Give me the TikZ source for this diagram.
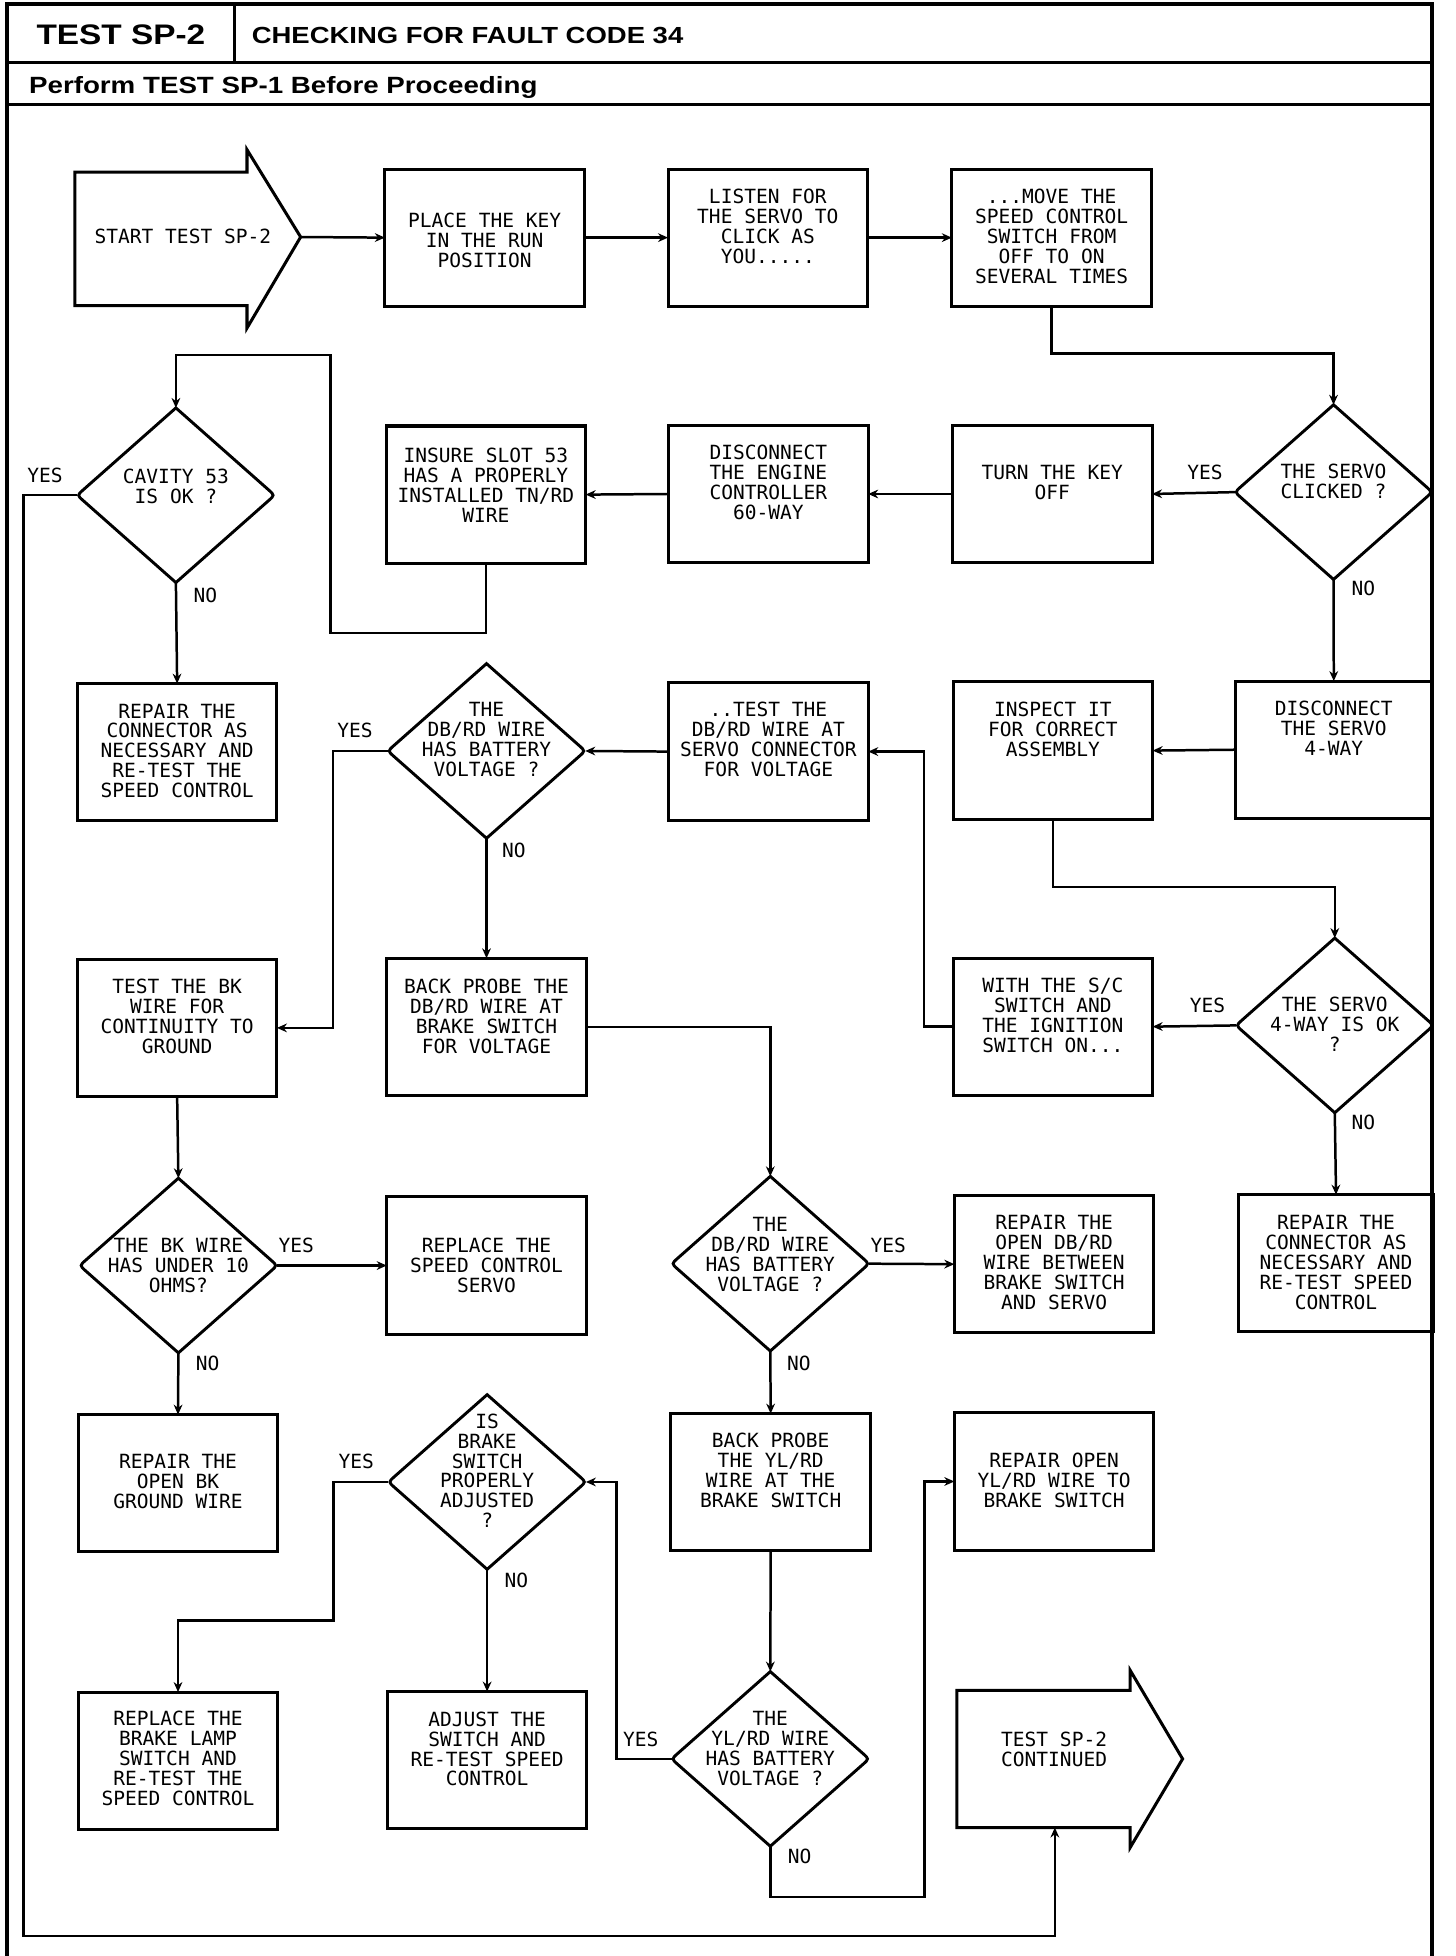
\documentclass[tikz,border=0pt]{standalone}
\usepackage{fontspec}
\usetikzlibrary{shapes.geometric,calc,arrows.meta}
\newfontfamily\plotfont{DejaVu Sans Mono}
\newfontfamily\hdrfont[FakeStretch=1.18]{Liberation Sans Bold}
\newcommand\drawdiamond[1]{\draw[diaedge] (#1.north) -- ($(#1.west)!4pt!(#1.north)$) .. controls (#1.west) .. ($(#1.west)!4pt!(#1.south)$) -- (#1.south) -- ($(#1.east)!4pt!(#1.south)$) .. controls (#1.east) .. ($(#1.east)!4pt!(#1.north)$) -- cycle;}
\begin{document}
\begin{tikzpicture}[x=0.6pt,y=-0.6pt,
  box/.style={draw, line width=1.45pt, minimum width=96pt, minimum height=66pt, inner sep=0pt, outer sep=0pt},
  nbox/.style={box, minimum width=94.2pt},
  dia/.style={shape=diamond, minimum width=95pt, minimum height=84pt, inner sep=0pt, outer sep=0pt},
  diaedge/.style={line width=1.4pt},
  txt/.style={font=\plotfont\fontsize{9.4pt}{9.6pt}\selectfont, align=center, inner sep=0pt},
  lab/.style={font=\plotfont\fontsize{9.4pt}{9.6pt}\selectfont, inner sep=0pt},
  conn/.style={line width=1.2pt, -{Stealth[length=4.8pt,width=4.2pt]}},
  frame/.style={line width=1.9pt},
  hline/.style={line width=1.5pt},
  hdr/.style={anchor=base west, inner sep=0pt}
]
\useasboundingbox (0,0) rectangle (1167,1568);

% frame and header
\draw[frame] (5.5,1568) -- (5.5,3.5) -- (1148.3,3.5) -- (1148.3,1568);
\draw[hline] (5.5,50) -- (1148.3,50);
\draw[hline] (188,3.5) -- (188,50);
\draw[hline] (5.5,84) -- (1148.3,84);
\node[hdr, font=\hdrfont\fontsize{13.6pt}{14pt}\selectfont] (hdrtest) at (29,36) {TEST SP-2};
\node[hdr, font=\hdrfont\fontsize{11.2pt}{12pt}\selectfont] (hdrcheck) at (201.5,34.5) {CHECKING FOR FAULT CODE 34};
\node[hdr, font=\hdrfont\fontsize{11.3pt}{12pt}\selectfont] (hdrperf) at (23,75) {Perform TEST SP-1 Before Proceeding};

% start and continued arrows
\draw[line width=1.45pt] (60,138) -- (198,138) -- (198,120) -- (241,190) -- (198,263) -- (198,245) -- (60,245) -- cycle;
\node[txt] (start) at (146.6,189.7) {START TEST SP-2};
\coordinate (starttip) at (241,190);
\draw[line width=1.45pt] (767,1355) -- (906,1355) -- (906,1339) -- (948,1410) -- (906,1481) -- (906,1465) -- (767,1465) -- cycle;
\node[txt] (cont) at (845,1402) {TEST SP-2\\CONTINUED};
\coordinate (contin) at (845.6,1465);

% row 1
\node[box] (place) at (388.5,190.5) {};
\node[txt] (placet) at (388.5,193) {PLACE THE KEY\\IN THE RUN\\POSITION};
\node[box] (listen) at (615.5,190.5) {};
\node[txt] (listent) at (615.5,181.8) {LISTEN FOR\\THE SERVO TO\\CLICK AS\\YOU.....};
\node[box] (move) at (843,190.5) {};
\node[txt] (movet) at (843,189.7) {...MOVE THE\\SPEED CONTROL\\SWITCH FROM\\OFF TO ON\\SEVERAL TIMES};

% row 2
\node[dia] (clicked) at (1069,394.5) {};
\drawdiamond{clicked}
\node[txt] (clickedt) at (1069,386) {THE SERVO\\CLICKED ?};
\node[box] (turn) at (843.5,396) {};
\node[txt] (turnt) at (843.5,387) {TURN THE KEY\\OFF};
\node[box] (disce) at (616,396) {};
\node[txt] (discet) at (616,387) {DISCONNECT\\THE ENGINE\\CONTROLLER\\60-WAY};
\node[box] (insure) at (389.5,396.5) {};
\node[txt] (insuret) at (389.5,388.7) {INSURE SLOT 53\\HAS A PROPERLY\\INSTALLED TN/RD\\WIRE};
\node[dia] (cavity) at (141,397) {};
\drawdiamond{cavity}
\node[txt] (cavityt) at (141,390) {CAVITY 53\\IS OK ?};

% row 3
\node[box] (rep1) at (142,603) {};
\node[txt] (rep1t) at (142,602) {REPAIR THE\\CONNECTOR AS\\NECESSARY AND\\RE-TEST THE\\SPEED CONTROL};
\node[dia] (dbrd1) at (390,602) {};
\drawdiamond{dbrd1}
\node[txt] (dbrd1t) at (390,593) {THE\\DB/RD WIRE\\HAS BATTERY\\VOLTAGE ?};
\node[box] (testdb) at (616,602.5) {};
\node[txt] (testdbt) at (616,593) {..TEST THE\\DB/RD WIRE AT\\SERVO CONNECTOR\\FOR VOLTAGE};
\node[box] (inspect) at (844,601.7) {};
\node[txt] (inspectt) at (844,584.5) {INSPECT IT\\FOR CORRECT\\ASSEMBLY};
\node[nbox] (discs) at (1069.2,601) {};
\node[txt] (discst) at (1069.2,584) {DISCONNECT\\THE SERVO\\4-WAY};

% row 4
\node[box] (testbk) at (142,824) {};
\node[txt] (testbkt) at (142,815) {TEST THE BK\\WIRE FOR\\CONTINUITY TO\\GROUND};
\node[box] (bpdb) at (390,823.2) {};
\node[txt] (bpdbt) at (390,815) {BACK PROBE THE\\DB/RD WIRE AT\\BRAKE SWITCH\\FOR VOLTAGE};
\node[box] (with) at (844,823) {};
\node[txt] (witht) at (844,814) {WITH THE S/C\\SWITCH AND\\THE IGNITION\\SWITCH ON...};
\node[dia] (servo4) at (1070,822) {};
\drawdiamond{servo4}
\node[txt] (servo4t) at (1070,821) {THE SERVO\\4-WAY IS OK\\?};

% row 5
\node[dia] (bk) at (143,1014.5) {};
\drawdiamond{bk}
\node[txt] (bkt) at (143,1014.5) {THE BK WIRE\\HAS UNDER 10\\OHMS?};
\node[box] (repservo) at (390,1014.5) {};
\node[txt] (repservot) at (390,1014.5) {REPLACE THE\\SPEED CONTROL\\SERVO};
\node[dia] (dbrd2) at (617.5,1013) {};
\drawdiamond{dbrd2}
\node[txt] (dbrd2t) at (617.5,1005.5) {THE\\DB/RD WIRE\\HAS BATTERY\\VOLTAGE ?};
\node[box] (repdb) at (845,1013.4) {};
\node[txt] (repdbt) at (845,1012.4) {REPAIR THE\\OPEN DB/RD\\WIRE BETWEEN\\BRAKE SWITCH\\AND SERVO};
\node[nbox] (repcon2) at (1071,1012.7) {};
\node[txt] (repcon2t) at (1071,1012.4) {REPAIR THE\\CONNECTOR AS\\NECESSARY AND\\RE-TEST SPEED\\CONTROL};

% row 6
\node[box] (repbk) at (142.7,1189) {};
\node[txt] (repbkt) at (142.7,1187.3) {REPAIR THE\\OPEN BK\\GROUND WIRE};
\node[dia] (brake) at (390.5,1188) {};
\drawdiamond{brake}
\node[txt] (braket) at (390.5,1179) {IS\\BRAKE\\SWITCH\\PROPERLY\\ADJUSTED\\?};
\node[box] (bpyl) at (617.8,1188.2) {};
\node[txt] (bpylt) at (617.8,1179) {BACK PROBE\\THE YL/RD\\WIRE AT THE\\BRAKE SWITCH};
\node[box] (repyl) at (845,1187.6) {};
\node[txt] (repylt) at (845,1187) {REPAIR OPEN\\YL/RD WIRE TO\\BRAKE SWITCH};

% row 7
\node[box] (replamp) at (142.7,1411.4) {};
\node[txt] (replampt) at (142.7,1409.8) {REPLACE THE\\BRAKE LAMP\\SWITCH AND\\RE-TEST THE\\SPEED CONTROL};
\node[box] (adjust) at (390.5,1411) {};
\node[txt] (adjustt) at (390.5,1402) {ADJUST THE\\SWITCH AND\\RE-TEST SPEED\\CONTROL};
\node[dia] (ylrd) at (617.5,1410) {};
\drawdiamond{ylrd}
\node[txt] (ylrdt) at (617.5,1402) {THE\\YL/RD WIRE\\HAS BATTERY\\VOLTAGE ?};

% connectors
\draw[conn] (starttip) -- (place.west);
\draw[conn] (place.east) -- (listen.west);
\draw[conn] (listen.east) -- (move.west);
\draw[conn] (move.south) -- ++(0,38) -| (clicked.north);
\draw[conn] (clicked.west) -- (turn.east);
\draw[conn] (turn.west) -- (disce.east);
\draw[conn] (disce.west) -- (insure.east);
\draw[conn] (insure.south) |- (265,507.5) -- (265,284.5) -| (cavity.north);
\draw[conn] (cavity.south) -- (rep1.north);
\draw[conn] (cavity.west) -| (19,1552) -| (contin);
\draw[conn] (clicked.south) -- (discs.north);
\draw[conn] (discs.west) -- (inspect.east);
\draw[conn] (inspect.south) -- ++(0,54.5) -| (servo4.north);
\draw[conn] (servo4.west) -- (with.east);
\draw[conn] (with.west) -- ++(-23.5,0) |- (testdb.east);
\draw[conn] (testdb.west) -- (dbrd1.east);
\draw[conn] (dbrd1.west) -- ++(-44,0) |- (testbk.east);
\draw[conn] (dbrd1.south) -- (bpdb.north);
\draw[conn] (servo4.south) -- (repcon2.north);
\draw[conn] (bpdb.east) -| (dbrd2.north);
\draw[conn] (testbk.south) -- (bk.north);
\draw[conn] (bk.east) -- (repservo.west);
\draw[conn] (bk.south) -- (repbk.north);
\draw[conn] (dbrd2.east) -- (repdb.west);
\draw[conn] (dbrd2.south) -- (bpyl.north);
\draw[conn] (bpyl.south) -- (ylrd.north);
\draw[conn] (brake.west) -- ++(-44,0) -- ++(0,111) -| (replamp.north);
\draw[conn] (brake.south) -- (adjust.north);
\draw[conn] (ylrd.west) -- ++(-44,0) |- (brake.east);
\draw[conn] (ylrd.south) |- (741,1520.5) |- (repyl.west);

% labels
\node[lab] (y1) at (36,381) {YES};
\node[lab] (n1) at (164.6,477) {NO};
\node[lab] (y2) at (966,379) {YES};
\node[lab] (n2) at (1093,471.5) {NO};
\node[lab] (y3) at (284.5,585.6) {YES};
\node[lab] (n3) at (412,681.8) {NO};
\node[lab] (y4) at (968,805.6) {YES};
\node[lab] (n4) at (1093,900) {NO};
\node[lab] (y5) at (237.5,998.7) {YES};
\node[lab] (n5) at (166.4,1092.8) {NO};
\node[lab] (y6) at (712,998) {YES};
\node[lab] (n6) at (640.4,1092.8) {NO};
\node[lab] (y7) at (285.5,1171.6) {YES};
\node[lab] (n7) at (414,1267) {NO};
\node[lab] (y8) at (513.6,1394) {YES};
\node[lab] (n8) at (641,1488) {NO};
\end{tikzpicture}
\end{document}
